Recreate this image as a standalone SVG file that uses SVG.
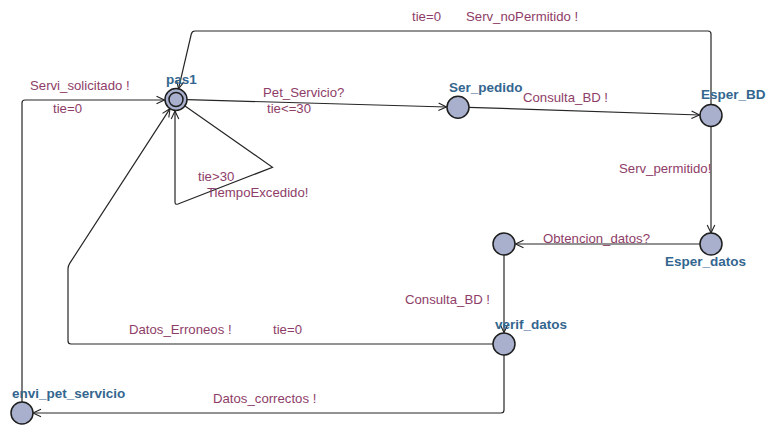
<svg xmlns="http://www.w3.org/2000/svg" width="768" height="425" viewBox="0 0 768 425">
<defs>
<marker id="arr" markerWidth="12" markerHeight="12" viewBox="-10 -6 12 12" refX="0" refY="0" orient="auto" markerUnits="userSpaceOnUse">
<path d="M-8,-3.8 L0,0 L-8,3.8" fill="none" stroke="#222" stroke-width="1.1"/>
</marker>
</defs>
<style>
.e{fill:none;stroke:#262626;stroke-width:1.2;marker-end:url(#arr)}
.n{fill:#a8b0cd;stroke:#1e1e1e;stroke-width:1.5}
.nm{font-family:"Liberation Sans",Arial,sans-serif;font-size:13.5px;font-weight:bold;fill:#33668f}
.lb{font-family:"Liberation Sans",Arial,sans-serif;font-size:13.2px;fill:#8e3d68}
</style>
<rect width="768" height="425" fill="#ffffff"/>
<g id="connectors">
<path class="e" d="M187,99.6 L446.5,107"/>
<path class="e" d="M468.5,107.3 L699.5,115"/>
<path class="e" d="M711,104.5 L711,34 Q711,31 708,31 L195,31 Q192,31 191.3,34 L178.5,88.8"/>
<path class="e" d="M711,126 L711,233"/>
<path class="e" d="M700,244 L515.5,244"/>
<path class="e" d="M504,255 L504,332.5"/>
<path class="e" d="M493,344 L71,344 Q68,344 68,341 L68,269 Q68,266 69.7,263.4 L170,108.7"/>
<path class="e" d="M504,355 L504,410 Q504,413 501,413 L33,413"/>
<path class="e" d="M22,402 L22,103 Q22,100 25,100 L164.5,100"/>
<path class="e" d="M185,106 L272.5,167.3 L178,204 Q175,205 175,202 L175,111"/>
</g>
<g id="pas1">
<circle class="n" cx="176" cy="99.5" r="11"/>
<circle class="n" cx="176" cy="99.5" r="7"/>
<text class="nm" x="166" y="84">pas1</text>
</g>
<g id="Ser_pedido">
<circle class="n" cx="458" cy="107.3" r="11"/>
<text class="nm" x="449" y="92">Ser_pedido</text>
</g>
<g id="Esper_BD">
<circle class="n" cx="711" cy="115.5" r="11"/>
<text class="nm" x="701" y="99">Esper_BD</text>
</g>
<g id="Esper_datos">
<circle class="n" cx="711" cy="244" r="11"/>
<text class="nm" x="665" y="266">Esper_datos</text>
</g>
<g id="unnamed">
<circle class="n" cx="504" cy="244" r="11"/>
</g>
<g id="verif_datos">
<circle class="n" cx="504" cy="344" r="11"/>
<text class="nm" x="495" y="329">verif_datos</text>
</g>
<g id="envi_pet_servicio">
<circle class="n" cx="22" cy="413" r="11"/>
<text class="nm" x="12" y="398">envi_pet_servicio</text>
</g>
<g id="labels">
<text class="lb" x="412" y="21">tie=0</text>
<text class="lb" x="466" y="21">Serv_noPermitido !</text>
<text class="lb" x="30" y="90">Servi_solicitado !</text>
<text class="lb" x="53" y="113">tie=0</text>
<text class="lb" x="263" y="97">Pet_Servicio?</text>
<text class="lb" x="267" y="113">tie&lt;=30</text>
<text class="lb" x="523" y="102">Consulta_BD !</text>
<text class="lb" x="619" y="173">Serv_permitido!</text>
<text class="lb" x="198" y="181">tie&gt;30</text>
<text class="lb" x="207" y="197">TiempoExcedido!</text>
<text class="lb" x="543" y="243">Obtencion_datos?</text>
<text class="lb" x="405" y="304">Consulta_BD !</text>
<text class="lb" x="129" y="334">Datos_Erroneos !</text>
<text class="lb" x="273" y="334">tie=0</text>
<text class="lb" x="213" y="403">Datos_correctos !</text>
</g>
</svg>
